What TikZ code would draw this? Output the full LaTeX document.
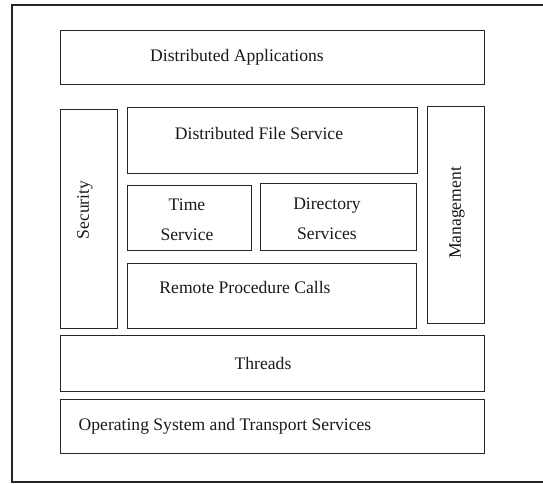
\documentclass[tikz,border=0pt]{standalone}
\usepackage{fontspec}
\setmainfont{Liberation Serif}
\usepackage{tikz}
\usetikzlibrary{positioning}

\begin{document}
\begin{tikzpicture}[
      x=1pt, y=-1pt,
      layer/.style={draw=black!85, line width=1.1pt, inner sep=0pt, anchor=north west},
      lbl/.style={font=\fontsize{17.6}{30}\selectfont, text=black!90, align=center, inner sep=0pt},
      vlbl/.style={lbl, rotate=90},
    ]
    \useasboundingbox (0,0) rectangle (543,484);

    % ---------- outer frame (open at the right) ----------
    \coordinate (ftr) at (543,5);
    \coordinate (fbr) at (543,482);
    \draw[black!85, line width=1.1pt] (ftr) -- (12,5) -- (12,482) -- (fbr);

    % ---------- top layer ----------
    \node[layer, minimum width=424pt, minimum height=54pt] (apps) at (60,30) {};
    \node[lbl] (appst) at (237,57) {Distributed Applications};

    % ---------- side columns ----------
    \node[layer, minimum width=57pt, minimum height=219pt] (sec) at (60,109) {};
    \node[vlbl] (sect) at (85,210) {Security};
    \node[layer, minimum width=57pt, minimum height=217pt] (mgmt) at (427,106) {};
    \node[vlbl] (mgmtt) at (457,213) {Management};

    % ---------- middle services ----------
    \node[layer, minimum width=290pt, minimum height=66pt] (dfs) at (127,107) {};
    \node[lbl] (dfst) at (259,133) {Distributed File Service};

    \node[layer, minimum width=124pt, minimum height=65pt] (time) at (127,185) {};
    \node[lbl] (timet) at (187,220) {Time\\Service};
    \node[layer, minimum width=156pt, minimum height=67pt] (dir) at (260,183) {};
    \node[lbl] (dirt) at (327,219) {Directory\\Services};

    \node[layer, minimum width=289pt, minimum height=65pt] (rpc) at (127,263) {};
    \node[lbl] (rpct) at (245,287) {Remote Procedure Calls};

    % ---------- bottom layers ----------
    \node[layer, minimum width=424pt, minimum height=56pt] (thr) at (60,335) {};
    \node[lbl] (thrt) at (263,363) {Threads};
    \node[layer, minimum width=424pt, minimum height=54pt] (os) at (60,399) {};
    \node[lbl] (ost) at (225,426) {Operating System and Transport Services};

  \end{tikzpicture}
\end{document}
